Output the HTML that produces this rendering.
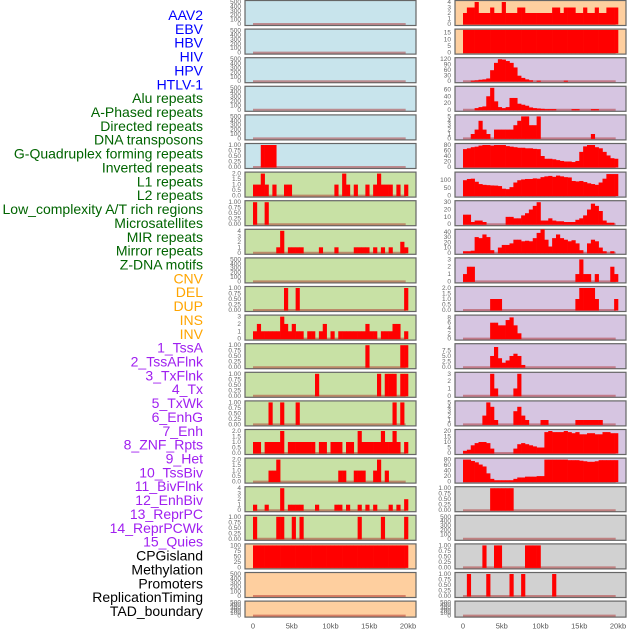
<!DOCTYPE html>
<html><head><meta charset="utf-8"><style>
html,body{margin:0;padding:0;background:#fff;width:630px;height:630px;overflow:hidden}
svg{display:block;font-family:"Liberation Sans",sans-serif}
</style></head><body>
<svg id="chart" width="630" height="630" viewBox="0 0 630 630" xmlns="http://www.w3.org/2000/svg"></svg>
<script>
const labels=["AAV2","EBV","HBV","HIV","HPV","HTLV-1","Alu repeats","A-Phased repeats","Directed repeats","DNA transposons","G-Quadruplex forming repeats","Inverted repeats","L1 repeats","L2 repeats","Low_complexity A/T rich regions","Microsatellites","MIR repeats","Mirror repeats","Z-DNA motifs","CNV","DEL","DUP","INS","INV","1_TssA","2_TssAFlnk","3_TxFlnk","4_Tx","5_TxWk","6_EnhG","7_Enh","8_ZNF_Rpts","9_Het","10_TssBiv","11_BivFlnk","12_EnhBiv","13_ReprPC","14_ReprPCWk","15_Quies","CPGisland","Methylation","Promoters","ReplicationTiming","TAD_boundary"];
const labelGroups=[6,13,5,15,5];
const xTickKb=[0,5,10,15,20];
const xTickLabels=["0","5kb","10kb","15kb","20kb"];
const T500=["0","100","200","300","400","500"],T1=["0.00","0.25","0.50","0.75","1.00"],T2=["0.0","0.5","1.0","1.5","2.0"],T3=["0","1","2","3"],T4=["0","1","2","3","4"],T5=["0","1","2","3","4","5"];
const leftTicks=[T500,T500,T500,T500,T500,T1,T2,T1,T4,T500,T1,T3,T1,T1,T1,T2,T2,T4,T1,["0","25","50","75","100"],T500,T500];
const rightTicks=[T4,["0","5","10","15"],["0","30","60","90","120"],["0","20","40","60"],T5,["0","20","40","60","80"],["0","50","100"],["0","10","20","30"],["0","10","20","30","40"],T3,T2,["0","2","4","6","8"],["0.0","2.5","5.0","7.5"],T3,T5,["0","5","10","15","20"],["0","20","40","60","80"],T1,T500,T1,T1,T500];
const rightYMax=[4,16.5,120,65,5,80,143,30,42,3,2,8.3,9.8,3,5,20,80,1,500,1,1,500];
const leftData=[[],[],[],[],[],
[[2,1],[3,1],[4,1],[5,1]],
[[0,1],[1,1],[2,2],[3,1],[5,1],[8,1],[9,1],[21,1],[23,2],[24,1],[26,1],[29,1],[31,1],[32,2],[33,1],[34,1],[35,1],[37,1],[39,1]],
[[0,1],[3,1]],
[[6,1],[7,4],[9,1],[10,1],[11,1],[12,1],[17,1],[21,1],[26,1],[27,1],[28,1],[29,1],[31,1],[33,1],[35,1],[38,2],[39,1]],
[],
[[8,1],[11,1],[39,1]],
[[0,1],[1,2],[2,1],[3,1],[4,1],[5,1],[6,1],[7,3],[8,2],[9,1],[10,2],[11,1],[12,1],[14,1],[15,1],[17,1],[18,2],[20,1],[22,1],[23,1],[24,1],[25,1],[26,1],[27,1],[28,1],[29,2],[30,1],[31,1],[33,1],[34,1],[35,1],[36,2],[37,2],[39,1]],
[[29,1],[38,1],[39,1]],
[[16,1],[32,1],[34,1],[35,1],[36,1],[38,1],[39,1]],
[[4,1],[7,1],[11,1],[36,1],[38,1]],
[[0,1],[1,1],[3,1],[4,1],[5,1],[6,1],[7,2],[9,1],[10,1],[11,1],[12,1],[13,1],[14,1],[15,1],[17,1],[18,1],[20,1],[21,1],[22,1],[24,1],[25,1],[27,2],[28,1],[29,1],[30,1],[31,1],[32,1],[33,2],[34,1],[35,1],[36,2],[37,1],[39,1]],
[[4,1],[5,1],[6,2],[22,1],[23,1],[26,1],[27,1],[28,1],[31,1],[32,2],[34,1]],
[[0,1],[3,1],[7,4],[9,1],[10,1],[11,1],[12,1],[16,1],[21,1],[22,1],[24,1],[27,1],[29,1],[31,1],[35,1],[37,1],[39,2]],
[[0,1],[6,1],[7,1],[10,1],[12,1],[27,1],[33,1],[39,1]],
[100,100,100,100,100,100,100,100,100,100,100,100,100,100,100,100,100,100,100,100,100,100,100,100,100,100,100,100,100,100,100,100,100,100,100,100,100,100,100,100],
[],[]];
const rightData=[
[2,3,3,4,2,2,2,3,2,2,4,2,2,2,3,3,2,2,2,2,2,2,2,3,3,2,3,3,3,2,2,3,2,2,3,2,2,3,3,3],
[17,17,17,17,17,17,17,17,17,17,17,17,17,17,17,17,17,17,17,17,17,17,17,17,17,17,17,17,17,17,17,17,17,17,17,17,17,17,17,17],
[0,0,3,5,8,10,15,60,100,120,118,110,100,75,30,18,10,5,0,3,0,0,0,0,0,0,3,0,0,0,0,0,0,0,0,0,0,0,0,0],
[0,0,0,5,8,10,40,65,25,8,5,8,35,35,18,15,12,7,5,4,3,2,2,2,0,0,0,0,2,2,0,0,0,2,2,0,0,0,0,0],
[0,0,1,2,4,2,1,0,2,2,2,2,2,3,4,5,5,3,3,5,0,0,0,0,0,0,0,0,0,0,0,0,0,1,0,0,0,0,0,0],
[65,68,72,74,78,80,80,78,80,80,80,76,74,72,70,70,68,68,66,65,40,30,30,28,25,22,20,20,18,22,55,75,80,80,72,68,55,42,32,30],
[100,108,110,90,75,70,68,66,65,62,45,42,55,85,100,105,108,108,112,110,120,125,128,122,130,125,120,118,95,92,95,88,80,75,70,85,110,140,140,140],
[13,13,3,5,5,3,0,0,0,0,0,10,10,8,8,12,15,20,25,30,5,5,8,5,4,4,3,3,3,6,8,12,20,28,25,18,5,2,2,0],
[3,3,4,30,28,35,30,5,0,10,15,15,18,25,25,22,23,22,28,38,45,25,12,28,35,28,25,22,24,18,5,0,18,25,22,10,3,0,3,0],
[[0,1],[1,2],[2,2],[29,1],[30,3],[31,1],[32,1],[34,1],[38,2],[39,1]],
[[7,1],[8,1],[9,1],[29,1],[30,2],[31,2],[32,2],[33,2],[34,1],[39,1]],
[[7,6],[8,6],[9,5],[10,5],[11,7],[12,8],[13,5],[14,2]],
[[7,5],[8,9],[9,4],[10,2],[11,3],[12,5],[13,6],[14,5],[15,1]],
[[7,3],[8,1],[13,1],[14,3]],
[[5,2],[6,5],[7,4],[8,1],[13,3],[14,4],[15,2],[16,1],[20,1],[21,1],[29,1],[30,1],[31,1],[32,1],[33,1],[34,1],[35,1]],
[2,3,7,9,10,10,9,4,0,0,0,0,0,4,8,9,8,7,6,5,5,19,20,19,19,19,20,19,18,19,17,17,18,18,17,17,19,19,18,18],
[80,80,75,70,62,55,30,10,5,5,5,5,5,10,15,15,18,18,18,20,20,80,80,80,80,80,80,78,78,78,76,74,72,72,74,78,78,78,78,78],
[[7,1],[8,1],[9,1],[10,1],[11,1],[12,1]],
[],
[[5,1],[8,1],[9,1],[16,1],[17,1],[18,1],[19,1]],
[[1,1],[6,1],[12,1],[15,1],[23,1]],
[]];

const NS="http://www.w3.org/2000/svg";
const svg=document.getElementById("chart");
function mk(tag,attrs,parent){const e=document.createElementNS(NS,tag);for(const k in attrs)e.setAttribute(k,attrs[k]);(parent||svg).appendChild(e);return e;}
const BIN=0.5, PXKB=7.75, ROWH=28.6;
const colorsL=["#c8e4ec","#c8e1a5","#fecf9f"], colorsR=["#fecf9f","#d6c5e1","#d1d1d1"];
const labelColors=["#0000ff","#006400","#ffa500","#a020f0","#000000"];

// labels
let gi=0,cnt=0;
labels.forEach((t,i)=>{
  while(cnt>=labelGroups[gi]){gi++;cnt=0;}
  cnt++;
  const e=mk("text",{x:203,y:20+i*13.86,"text-anchor":"end","font-size":"14",fill:labelColors[gi]});
  e.textContent=t;
  
  
});

function panel(side,i){
  const px=side==="L"?245:455, x0=side==="L"?253:463;
  const top=i*ROWH, h=i===21?16:25;
  let bg;
  if(side==="L") bg=i<6?colorsL[0]:i<19?colorsL[1]:colorsL[2];
  else bg=i<2?colorsR[0]:i<17?colorsR[1]:colorsR[2];
  const ticks=side==="L"?leftTicks[i]:rightTicks[i];
  const data=side==="L"?leftData[i]:rightData[i];
  const ymax=side==="L"?parseFloat(ticks[ticks.length-1]):rightYMax[i];
  const g=mk("g",{});
  
  
  const r=mk("rect",{x:px,y:top+0.5,width:171,height:h,fill:bg,stroke:"#666","stroke-width":1.2},g);
  
  
  const yb=top+h-1, yt=top+2;
  const ys=v=>yb-Math.min(v,ymax*1.2)/ymax*(yb-yt);
  const xs=kb=>x0+kb*PXKB;
  const cp="clip"+side+i;
  const cpe=mk("clipPath",{id:cp},g);mk("rect",{x:px,y:top+0.5,width:171,height:h},cpe);
  const bars=mk("g",{"clip-path":"url(#"+cp+")"},g);
  const base=mk("line",{x1:xs(0),x2:xs(19.7),y1:yb,y2:yb,stroke:"rgba(170,30,30,0.45)","stroke-width":2},bars);
  
  
  const pts=[];
  if(data.length && Array.isArray(data[0])) data.forEach(p=>pts.push(p));
  else data.forEach((v,k)=>pts.push([k,v]));
  pts.forEach(([k,v])=>{
    if(!v)return;
    const y=ys(v);
    const b=mk("rect",{x:xs(k*BIN),y:y,width:BIN*PXKB+0.3,height:yb-y+0.5,fill:"#ff0000"},bars);
    
    
  });
  ticks.forEach(t=>{
    const v=parseFloat(t);
    const e=mk("text",{x:px-4,y:ys(v)+2,"text-anchor":"end","font-size":"6.5",fill:"#666"},g);
    e.textContent=t;
    
    
  });
  if(i===21){
    xTickKb.forEach((kb,j)=>{
      const e=mk("text",{x:xs(kb),y:628.5,"text-anchor":"middle","font-size":"7.5",fill:"#555"});
      e.textContent=xTickLabels[j];
      
      
    });
  }
}
for(let i=0;i<22;i++){panel("L",i);panel("R",i);}
</script>
</body></html>
